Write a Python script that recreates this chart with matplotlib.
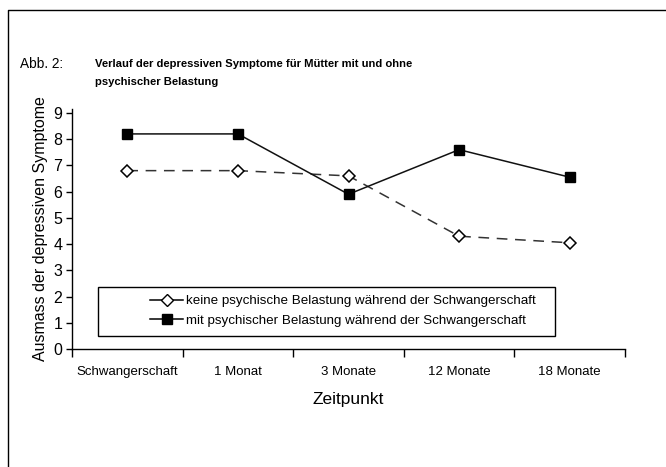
import matplotlib
matplotlib.use("Agg")
import matplotlib.pyplot as plt
from matplotlib.patches import Rectangle
from matplotlib.lines import Line2D

plt.rcParams['font.family'] = ['Liberation Sans', 'DejaVu Sans']

categories = ["Schwangerschaft", "1 Monat", "3 Monate", "12 Monate", "18 Monate"]
keine = [6.8, 6.8, 6.6, 4.3, 4.05]
mit = [8.2, 8.2, 5.9, 7.6, 6.55]
yticks = list(range(0, 10))
label_keine = "keine psychische Belastung während der Schwangerschaft"
label_mit = "mit psychischer Belastung während der Schwangerschaft"

W, H = 666, 467
fig = plt.figure(figsize=(W / 100, H / 100), dpi=100)
ax = fig.add_axes([72 / W, 1 - 349 / H, (625 - 72) / W, (349 - 109) / H])

x = list(range(len(categories)))
ax.plot(x, keine, color="#333333", lw=1.1, ls=(0, (7, 5)), marker="D", ms=6.5,
        mfc="white", mec="black", mew=1.1)
ax.plot(x, mit, color="#111111", lw=1.1, ls="-", marker="s", ms=7,
        mfc="black", mec="black")

ax.set_xlim(-0.5, len(categories) - 0.5)
ax.set_ylim(0, 9.15)
ax.set_yticks(yticks)
ax.set_yticklabels([str(v) for v in yticks], fontsize=11.5)
ax.set_xticks(x)
ax.set_xticklabels(categories, fontsize=9.5)
ax.tick_params(axis="x", length=0, pad=12)
ax.set_xticks([i - 0.5 for i in range(len(categories) + 1)], minor=True)
ax.tick_params(axis="x", which="minor", length=6, width=1, direction="out")
ax.tick_params(axis="y", length=4, width=1, direction="out", pad=3)
for s in ["top", "right"]:
    ax.spines[s].set_visible(False)
for s in ["left", "bottom"]:
    ax.spines[s].set_linewidth(1)
ax.set_xlabel("Zeitpunkt", fontsize=12.5, labelpad=10)
ax.set_ylabel("Ausmass der depressiven Symptome", fontsize=11.5, labelpad=4)

# legend box
fig.patches.append(Rectangle((98 / W, 1 - 336 / H), (555 - 98) / W, (336 - 287) / H,
                             transform=fig.transFigure, fill=False, ec="black", lw=1))
handles = [
    Line2D([], [], color="black", lw=1.1, ls="-", marker="D", ms=6.5, mfc="white", mec="black"),
    Line2D([], [], color="black", lw=1.1, ls="-", marker="s", ms=7, mfc="black", mec="black"),
]
fig.legend(handles, [label_keine, label_mit], loc="center left",
           bbox_to_anchor=(150 / W, 1 - 311 / H), frameon=False,
           fontsize=9.6, handlelength=2.5, handletextpad=0.2, labelspacing=0.55,
           borderpad=0, borderaxespad=0)

# title
fig.text(20 / W, 1 - 64 / H, "Abb. 2:", fontsize=9.8, va="center")
fig.text(95 / W, 1 - 64 / H, "Verlauf der depressiven Symptome für Mütter mit und ohne",
         fontsize=8.1, fontweight="bold", va="center")
fig.text(95 / W, 1 - 82 / H, "psychischer Belastung", fontsize=8.1, fontweight="bold", va="center")

# outer frame (left and top)
fig.lines.append(Line2D([8 / W, 8 / W, 1], [0, 1 - 10 / H, 1 - 10 / H],
                        transform=fig.transFigure, color="black", lw=1))

fig.savefig("out.png", dpi=100)
